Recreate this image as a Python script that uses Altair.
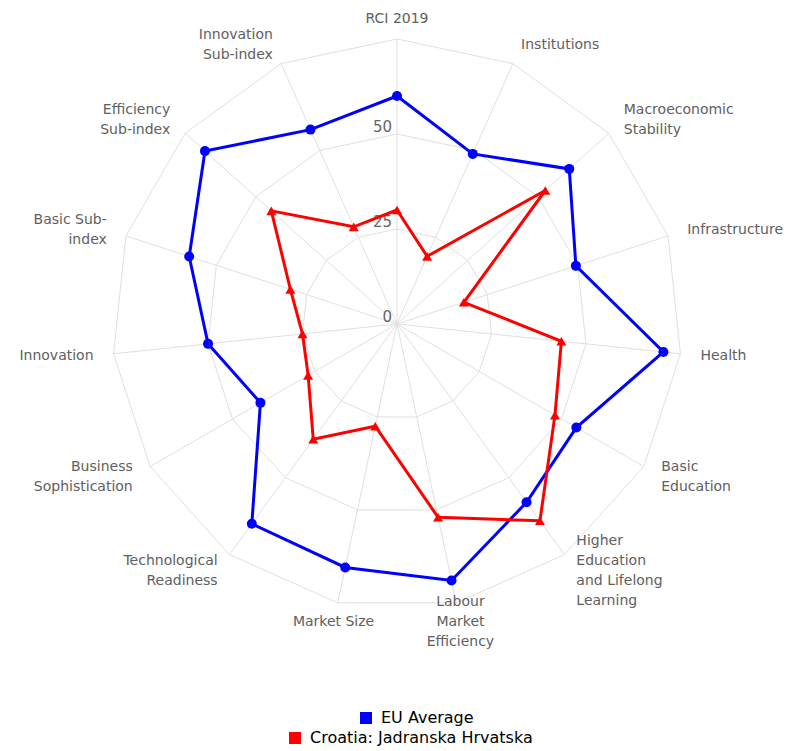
import altair as alt
import pandas as pd

categories = ["RCI 2019", "Institutions", "Macroeconomic Stability", "Infrastructure", "Health",
              "Basic Education", "Higher Education and Lifelong Learning", "Labour Market Efficiency",
              "Market Size", "Technological Readiness", "Business Sophistication", "Innovation",
              "Basic Sub-index", "Efficiency Sub-index", "Innovation Sub-index"]
labels = ["RCI 2019", "Institutions", "Macroeconomic\nStability", "Infrastructure", "Health",
          "Basic\nEducation", "Higher\nEducation\nand Lifelong\nLearning", "Labour\nMarket\nEfficiency",
          "Market Size", "Technological\nReadiness", "Business\nSophistication", "Innovation",
          "Basic Sub-\nindex", "Efficiency\nSub-index", "Innovation\nSub-index"]
eu_values = [60, 49, 61, 49.5, 70.5, 54.5, 58, 69, 65.5, 65, 41.5, 50, 57.5, 68, 56]
hr_values = [30, 19.5, 52.5, 18.5, 43.5, 48, 64, 52, 27.5, 37.5, 27, 25, 29.5, 44.5, 28]
ring_values = [25, 50, 75]
tick_values = [0, 25, 50]
tick_labels = ["0", "25", "50"]
series_names = ["EU Average", "Croatia: Jadranska Hrvatska"]
colors = ["#0000ff", "#ff0000"]

N = len(categories)
MAX = 75
FONT = "DejaVu Sans"
SIZE = 570
PX_PER_UNIT = SIZE / (2 * MAX)
LINE_H = 20

def series_df(vals, name):
    rows = [{"idx": i, "value": v, "series": name, "order": i} for i, v in enumerate(vals)]
    rows.append({"idx": 0, "value": vals[0], "series": name, "order": N})
    return pd.DataFrame(rows)

ring_rows = []
for rv in ring_values:
    for i in range(N + 1):
        ring_rows.append({"ring": rv, "idx": i % N, "value": rv, "order": i})
ring_df = pd.DataFrame(ring_rows)
spoke_df = pd.DataFrame({"idx": list(range(N)), "value": [MAX] * N})
label_df = pd.DataFrame({"idx": list(range(N)), "label": labels,
                         "nl": [l.count("\n") + 1 for l in labels], "value": [MAX + 5.3] * N})
tick_df = pd.DataFrame({"idx": [0] * len(tick_values), "value": tick_values, "label": tick_labels})

xs = alt.Scale(domain=[-MAX, MAX], nice=False, zero=False)
ys = alt.Scale(domain=[-MAX, MAX], nice=False, zero=False)

def polar(ch):
    return (ch.transform_calculate(ang=f"datum.idx * 2 * PI / {N}")
              .transform_calculate(px="datum.value * sin(datum.ang)", py="datum.value * cos(datum.ang)"))

X = alt.X("px:Q", scale=xs, axis=None)
Y = alt.Y("py:Q", scale=ys, axis=None)

rings = polar(alt.Chart(ring_df)).mark_line(color="#e0e0e0", strokeWidth=1).encode(
    x=X, y=Y, detail="ring:N", order="order:Q")

spokes = polar(alt.Chart(spoke_df)).transform_calculate(zx="0", zy="0").mark_rule(
    color="#e0e0e0", strokeWidth=1).encode(
    x=alt.X("zx:Q", scale=xs, axis=None), y=alt.Y("zy:Q", scale=ys, axis=None),
    x2="px:Q", y2="py:Q")

def label_layer(cond, align):
    return polar(alt.Chart(label_df)).transform_calculate(
        s="sin(datum.ang)",
        ly=f"datum.value * cos(datum.idx * 2 * PI / {N}) + (datum.nl - 1) * {LINE_H / 2} / {PX_PER_UNIT}",
    ).transform_filter(cond).mark_text(
        align=align, baseline="middle", font=FONT, fontSize=14, color="#606060",
        lineBreak="\n", lineHeight=LINE_H).encode(
        x=X, y=alt.Y("ly:Q", scale=ys, axis=None), text="label:N")

lab_c = label_layer("abs(datum.s) < 0.25", "center")
lab_l = label_layer("datum.s >= 0.25", "left")
lab_r = label_layer("datum.s <= -0.25", "right")

ticks = polar(alt.Chart(tick_df)).mark_text(
    align="right", baseline="middle", dx=-5, dy=-7, font=FONT, fontSize=15, color="#666666").encode(
    x=X, y=Y, text="label:N")

def series_layers(vals, name, color, shape, lx, ly):
    df = series_df(vals, name)
    line = polar(alt.Chart(df)).mark_line(color=color, strokeWidth=3).encode(
        x=X, y=Y, order="order:Q")
    pts = polar(alt.Chart(df)).transform_filter(f"datum.order < {N}").mark_point(
        filled=True, shape=shape, size=100, opacity=1).encode(
        x=X, y=Y,
        color=alt.Color("series:N", scale=alt.Scale(domain=[name], range=[color]),
                        legend=alt.Legend(title=None, orient="none", legendX=lx, legendY=ly,
                                          symbolType="square", symbolSize=144,
                                          symbolFillColor=color, symbolStrokeColor=color,
                                          symbolStrokeWidth=0, labelLimit=0,
                                          labelFont=FONT, labelFontSize=16, labelColor="#000000",
                                          labelOffset=7, padding=0)))
    return line, pts

eu_line, eu_pts = series_layers(eu_values, series_names[0], colors[0], "circle", 246, 671)
hr_line, hr_pts = series_layers(hr_values, series_names[1], colors[1], "triangle-up", 175, 691)

chart = alt.layer(rings, spokes, ticks, lab_c, lab_l, lab_r, eu_line, eu_pts, hr_line, hr_pts).resolve_scale(
    color="independent").properties(
    width=SIZE, height=SIZE,
    autosize=alt.AutoSizeParams(type="none"),
    padding={"left": 104, "top": 31, "right": 104, "bottom": 138},
).configure_view(stroke=None)

chart.save("out.html", embed_options={"renderer": "svg", "actions": False})
